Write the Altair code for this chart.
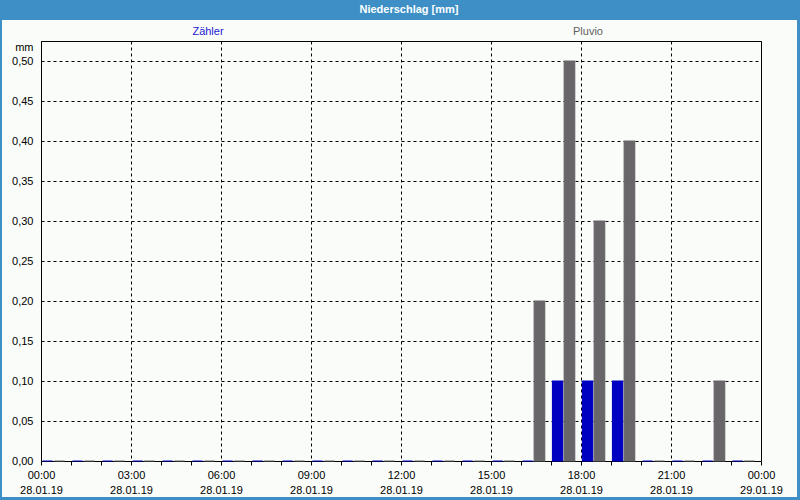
import altair as alt
import pandas as pd
import json

# ---- data ----
hours = list(range(24))
zaehler = [0, 0, 0, 0, 0, 0, 0, 0, 0, 0, 0, 0, 0, 0, 0, 0, 0, 0.1, 0.1, 0.1, 0, 0, 0, 0]
pluvio = [0, 0, 0, 0, 0, 0, 0, 0, 0, 0, 0, 0, 0, 0, 0, 0, 0.2, 0.5, 0.3, 0.4, 0, 0, 0.1, 0]
series = ["Zähler", "Pluvio"]
colors = ["#0000c0", "#686668"]
time_labels = ["00:00", "03:00", "06:00", "09:00", "12:00", "15:00", "18:00", "21:00", "00:00"]
date_labels = ["28.01.19"] * 8 + ["29.01.19"]
y_ticks = [0, 0.05, 0.1, 0.15, 0.2, 0.25, 0.3, 0.35, 0.4, 0.45, 0.5]
title_text = "Niederschlag [mm]"
unit = "mm"

rows = []
for h, z, p in zip(hours, zaehler, pluvio):
    rows.append({"hour": h, "series": series[0], "value": z})
    rows.append({"hour": h, "series": series[1], "value": p})
df = pd.DataFrame(rows)

label_pairs = json.dumps([[t, d] for t, d in zip(time_labels, date_labels)])
x_label_expr = f"datum.value % 3 === 0 ? {label_pairs}[datum.value / 3] : ''"

FONT = "Liberation Sans"
W, H = 720, 420

x_scale = alt.Scale(domain=[0, 24], nice=False, zero=False)
y_scale = alt.Scale(domain=[0, 0.525], nice=False)
color_scale = alt.Scale(domain=series, range=colors)

bars = alt.Chart(df).transform_calculate(
    x0="datum.hour + (datum.series === 'Zähler' ? 0.05 : 0.44)",
    x1="datum.hour + (datum.series === 'Zähler' ? 0.39 : 0.79)",
).mark_rect(strokeWidth=1.2).encode(
    x=alt.X("x0:Q", scale=x_scale, axis=alt.Axis(
        values=list(range(25)), labelExpr=x_label_expr, title=None,
        tickSize=4, tickColor="black", domain=False, labelPadding=4,
        labelLineHeight=15, labelFlush=False, labelOverlap=False,
        gridDash=[3, 3], gridColor="black",
        gridOpacity={"condition": {"test": "datum.value % 3 === 0", "value": 1}, "value": 0},
    )),
    x2="x1:Q",
    y=alt.Y("value:Q", scale=y_scale, axis=alt.Axis(
        values=y_ticks, labelExpr="replace(format(datum.value, '.2f'), '.', ',')",
        ticks=False, domain=False, labelPadding=8, title=unit, titleAngle=0,
        titleX=-8, titleY=9, titleAlign="right", titleBaseline="alphabetic",
        titleFont=FONT, titleFontSize=11, titleFontWeight="normal",
        gridDash=[3, 3], gridColor="black",
    )),
    y2=alt.datum(0),
    color=alt.Color("series:N", scale=color_scale, legend=None),
    stroke=alt.Color("series:N", scale=color_scale, legend=None),
)

one = pd.DataFrame({"k": [0]})

title_bar = alt.Chart(one).mark_rect(color="#3d8fc6").encode(
    x=alt.value(-41), x2=alt.value(759), y=alt.value(-41), y2=alt.value(-21)
)
title_txt = alt.Chart(one).mark_text(
    text=title_text, font=FONT, fontSize=11, fontWeight="bold", color="white",
    align="center", baseline="middle"
).encode(x=alt.value(368), y=alt.value(-31))

left_border = alt.Chart(one).mark_rect(color="#3d8fc6").encode(
    x=alt.value(-41), x2=alt.value(-39), y=alt.value(-41), y2=alt.value(459)
)
right_border = alt.Chart(one).mark_rect(color="#3d8fc6").encode(
    x=alt.value(756), x2=alt.value(759), y=alt.value(-41), y2=alt.value(459)
)
bottom_border = alt.Chart(one).mark_rect(color="#3d8fc6").encode(
    x=alt.value(-41), x2=alt.value(759), y=alt.value(456), y2=alt.value(459)
)

leg_df = pd.DataFrame({"series": series})
legend_txt = alt.Chart(leg_df).mark_text(
    font=FONT, fontSize=11, align="center", baseline="middle"
).encode(
    x=alt.X("series:N", scale=alt.Scale(type="point", domain=series, range=[167, 547], padding=0), axis=None),
    y=alt.value(-9),
    text="series:N",
    color=alt.Color("series:N", scale=alt.Scale(domain=series, range=["#1a1ad0", "#606060"]), legend=None),
)

chart = alt.layer(
    bars, title_bar, title_txt, left_border, right_border, bottom_border, legend_txt
).resolve_scale(x="independent", color="independent").properties(
    width=W, height=H,
    autosize=alt.AutoSizeParams(type="none"),
    padding={"left": 41, "top": 41, "right": 39, "bottom": 39},
    background="#fafcfa",
).configure_view(stroke="black", strokeWidth=1).configure_axis(
    labelFont=FONT, labelFontSize=11, labelColor="black"
)

chart.save("out.html", embed_options={"renderer": "svg", "actions": False})
